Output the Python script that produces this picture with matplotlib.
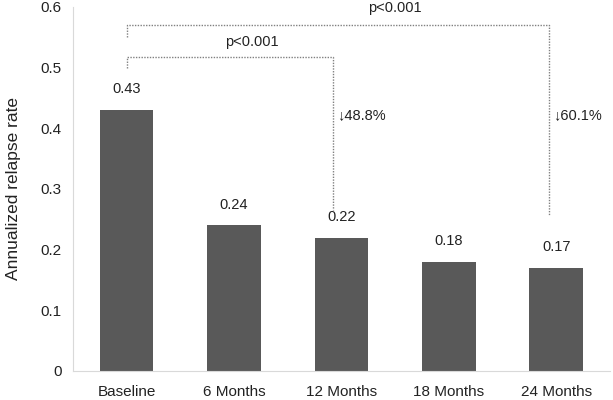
import matplotlib.pyplot as plt

plt.rcParams['font.family'] = ['Liberation Sans', 'DejaVu Sans']

categories = ['Baseline', '6 Months', '12 Months', '18 Months', '24 Months']
rates = [0.43, 0.24, 0.22, 0.18, 0.17]
rate_labels = ['0.43', '0.24', '0.22', '0.18', '0.17']

fig = plt.figure(figsize=(6.13, 4.0), dpi=100)
ax = fig.add_axes([0.119, 0.0725, 0.876, 0.91])

x = list(range(len(categories)))
ax.bar(x, rates, width=0.5, color='#595959')

for xi, v, lab in zip(x, rates, rate_labels):
    ax.annotate(lab, (xi, v), xytext=(0, 10), textcoords='offset points',
                ha='center', va='bottom', fontsize=10.5, color='#222222')

# significance brackets
line_kw = dict(color='#808080', linestyle=(0, (1, 1)), linewidth=1)
ax.plot([0, 0, 1.92, 1.92], [0.499, 0.518, 0.518, 0.265], **line_kw)
ax.plot([0, 0, 3.93, 3.93], [0.551, 0.571, 0.571, 0.257], **line_kw)
ax.text(1.17, 0.543, 'p<0.001', ha='center', va='center', fontsize=10.5, color='#222222')
ax.text(2.5, 0.598, 'p<0.001', ha='center', va='center', fontsize=10.5, color='#222222')
ax.text(1.96, 0.421, '↓48.8%', ha='left', va='center', fontsize=10.5, color='#222222')
ax.text(3.97, 0.421, '↓60.1%', ha='left', va='center', fontsize=10.5, color='#222222')

ax.set_xlim(-0.5, 4.5)
ax.set_ylim(0, 0.6)
ax.set_yticks([0, 0.1, 0.2, 0.3, 0.4, 0.5, 0.6])
ax.set_yticklabels(['0', '0.1', '0.2', '0.3', '0.4', '0.5', '0.6'])
ax.set_xticks(x)
ax.set_xticklabels(categories)
ax.tick_params(length=0, labelsize=11, colors='#222222')
ax.tick_params(axis='x', pad=10)
ax.tick_params(axis='y', pad=8)
ax.set_ylabel('Annualized relapse rate', fontsize=12.5, color='#222222', labelpad=14)

for side in ['top', 'right']:
    ax.spines[side].set_visible(False)
for side in ['left', 'bottom']:
    ax.spines[side].set_color('#d9d9d9')

fig.savefig('out.png', dpi=100)
